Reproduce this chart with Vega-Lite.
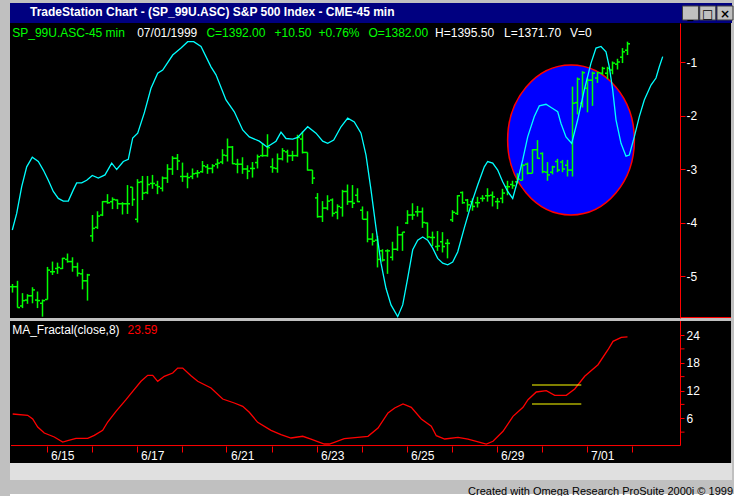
{
  "$schema": "https://vega.github.io/schema/vega-lite/v6.json",
  "background": "#c0c0c0",
  "padding": {"left": 9, "top": 3, "right": 0, "bottom": 0},
  "spacing": 0,
  "config": {"view": {"stroke": null}, "font": "Liberation Sans", "axis": {"labelOverlap": false}},
  "datasets": {
    "bars": [
      {"b":0,"h":-5.15,"l":-5.31,"o":-5.20,"c":-5.20},{"b":1,"h":-5.09,"l":-5.59,"o":-5.20,"c":-5.59},{"b":2,"h":-5.32,"l":-5.60,"o":-5.56,"c":-5.46},{"b":3,"h":-5.34,"l":-5.52,"o":-5.45,"c":-5.37},{"b":4,"h":-5.21,"l":-5.51,"o":-5.37,"c":-5.26},{"b":5,"h":-5.29,"l":-5.60,"o":-5.45,"c":-5.46},{"b":6,"h":-5.44,"l":-5.76,"o":-5.51,"c":-5.46},{"b":7,"h":-4.83,"l":-5.44,"o":-5.44,"c":-4.89},{"b":8,"h":-4.73,"l":-4.98,"o":-4.92,"c":-4.92},{"b":9,"h":-4.75,"l":-4.96,"o":-4.86,"c":-4.84},
      {"b":10,"h":-4.66,"l":-4.87,"o":-4.86,"c":-4.67},{"b":11,"h":-4.58,"l":-4.75,"o":-4.69,"c":-4.73},{"b":12,"h":-4.65,"l":-4.92,"o":-4.73,"c":-4.83},{"b":13,"h":-4.75,"l":-5.01,"o":-4.83,"c":-4.95},{"b":14,"h":-4.87,"l":-5.25,"o":-4.96,"c":-5.09},{"b":15,"h":-4.96,"l":-5.46,"o":-5.09,"c":-4.98},{"b":16,"h":-3.86,"l":-4.36,"o":-4.25,"c":-4.11},{"b":17,"h":-3.79,"l":-4.12,"o":-4.09,"c":-3.88},{"b":18,"h":-3.60,"l":-3.88,"o":-3.86,"c":-3.61},{"b":19,"h":-3.47,"l":-3.65,"o":-3.61,"c":-3.63},
      {"b":20,"h":-3.53,"l":-3.75,"o":-3.61,"c":-3.57},{"b":21,"h":-3.57,"l":-3.75,"o":-3.58,"c":-3.65},{"b":22,"h":-3.62,"l":-3.85,"o":-3.65,"c":-3.65},{"b":23,"h":-3.30,"l":-3.84,"o":-3.65,"c":-3.65},{"b":24,"h":-3.34,"l":-3.69,"o":-3.34,"c":-3.57},{"b":25,"h":-3.19,"l":-4.00,"o":-3.94,"c":-3.25},{"b":26,"h":-3.13,"l":-3.58,"o":-3.24,"c":-3.45},{"b":27,"h":-3.13,"l":-3.47,"o":-3.44,"c":-3.29},{"b":28,"h":-3.11,"l":-3.37,"o":-3.27,"c":-3.27},{"b":29,"h":-3.22,"l":-3.47,"o":-3.30,"c":-3.33},
      {"b":30,"h":-3.14,"l":-3.42,"o":-3.36,"c":-3.17},{"b":31,"h":-2.91,"l":-3.26,"o":-3.17,"c":-3.00},{"b":32,"h":-2.76,"l":-3.11,"o":-3.00,"c":-2.80},{"b":33,"h":-2.72,"l":-3.02,"o":-2.80,"c":-2.85},{"b":34,"h":-2.88,"l":-3.24,"o":-3.14,"c":-3.14},{"b":35,"h":-3.07,"l":-3.36,"o":-3.14,"c":-3.16},{"b":36,"h":-2.99,"l":-3.19,"o":-3.14,"c":-3.09},{"b":37,"h":-3.02,"l":-3.16,"o":-3.08,"c":-3.07},{"b":38,"h":-2.85,"l":-3.07,"o":-3.05,"c":-2.94},{"b":39,"h":-2.91,"l":-3.09,"o":-2.96,"c":-2.99},
      {"b":40,"h":-2.91,"l":-3.08,"o":-2.99,"c":-2.94},{"b":41,"h":-2.81,"l":-2.99,"o":-2.91,"c":-2.89},{"b":42,"h":-2.63,"l":-2.91,"o":-2.87,"c":-2.74},{"b":43,"h":-2.43,"l":-2.86,"o":-2.75,"c":-2.59},{"b":44,"h":-2.57,"l":-2.91,"o":-2.59,"c":-2.90},{"b":45,"h":-2.81,"l":-3.08,"o":-2.91,"c":-2.91},{"b":46,"h":-2.78,"l":-3.09,"o":-2.91,"c":-3.00},{"b":47,"h":-2.93,"l":-3.19,"o":-3.00,"c":-3.04},{"b":48,"h":-2.87,"l":-3.16,"o":-2.99,"c":-2.99},{"b":49,"h":-2.73,"l":-2.99,"o":-2.88,"c":-2.77},
      {"b":50,"h":-2.52,"l":-2.77,"o":-2.75,"c":-2.75},{"b":51,"h":-2.35,"l":-2.77,"o":-2.75,"c":-2.60},{"b":52,"h":-2.80,"l":-3.07,"o":-2.96,"c":-2.98},{"b":53,"h":-2.71,"l":-3.07,"o":-2.99,"c":-2.81},{"b":54,"h":-2.61,"l":-2.84,"o":-2.81,"c":-2.66},{"b":55,"h":-2.64,"l":-2.88,"o":-2.68,"c":-2.75},{"b":56,"h":-2.66,"l":-2.85,"o":-2.75,"c":-2.75},{"b":57,"h":-2.36,"l":-2.77,"o":-2.75,"c":-2.41},{"b":58,"h":-2.30,"l":-2.71,"o":-2.44,"c":-2.69},{"b":59,"h":-2.69,"l":-3.03,"o":-2.69,"c":-3.02},
      {"b":60,"h":-3.02,"l":-3.28,"o":-3.02,"c":-3.17},{"b":61,"h":-3.45,"l":-3.91,"o":-3.54,"c":-3.89},{"b":62,"h":-3.60,"l":-3.99,"o":-3.89,"c":-3.73},{"b":63,"h":-3.49,"l":-3.77,"o":-3.73,"c":-3.60},{"b":64,"h":-3.55,"l":-3.89,"o":-3.58,"c":-3.83},{"b":65,"h":-3.66,"l":-3.94,"o":-3.81,"c":-3.70},{"b":66,"h":-3.39,"l":-3.89,"o":-3.72,"c":-3.42},{"b":67,"h":-3.29,"l":-3.67,"o":-3.42,"c":-3.61},{"b":68,"h":-3.30,"l":-3.73,"o":-3.61,"c":-3.64},{"b":69,"h":-3.36,"l":-3.62,"o":-3.49,"c":-3.61},
      {"b":70,"h":-3.70,"l":-3.94,"o":-3.77,"c":-3.94},{"b":71,"h":-3.79,"l":-4.37,"o":-3.94,"c":-4.31},{"b":72,"h":-4.20,"l":-4.43,"o":-4.31,"c":-4.35},{"b":73,"h":-4.25,"l":-4.84,"o":-4.33,"c":-4.69},{"b":74,"h":-4.50,"l":-4.73,"o":-4.53,"c":-4.70},{"b":75,"h":-4.50,"l":-4.96,"o":-4.53,"c":-4.53},{"b":76,"h":-4.36,"l":-4.71,"o":-4.65,"c":-4.50},{"b":77,"h":-4.07,"l":-4.53,"o":-4.50,"c":-4.23},{"b":78,"h":-4.18,"l":-4.53,"o":-4.23,"c":-4.18},{"b":79,"h":-3.77,"l":-4.03,"o":-4.01,"c":-3.86},
      {"b":80,"h":-3.64,"l":-3.95,"o":-3.86,"c":-3.86},{"b":81,"h":-3.69,"l":-3.89,"o":-3.80,"c":-3.80},{"b":82,"h":-3.72,"l":-4.10,"o":-3.80,"c":-4.00},{"b":83,"h":-4.00,"l":-4.30,"o":-4.01,"c":-4.27},{"b":84,"h":-4.17,"l":-4.44,"o":-4.28,"c":-4.28},{"b":85,"h":-4.16,"l":-4.53,"o":-4.45,"c":-4.44},{"b":86,"h":-4.18,"l":-4.56,"o":-4.36,"c":-4.45},{"b":87,"h":-4.31,"l":-4.67,"o":-4.39,"c":-4.39},{"b":88,"h":-3.77,"l":-3.99,"o":-3.95,"c":-3.81},{"b":89,"h":-3.49,"l":-3.86,"o":-3.83,"c":-3.50},
      {"b":90,"h":-3.42,"l":-3.65,"o":-3.44,"c":-3.63},{"b":91,"h":-3.56,"l":-3.80,"o":-3.58,"c":-3.67},{"b":92,"h":-3.55,"l":-3.78,"o":-3.61,"c":-3.70},{"b":93,"h":-3.52,"l":-3.72,"o":-3.63,"c":-3.63},{"b":94,"h":-3.49,"l":-3.61,"o":-3.55,"c":-3.55},{"b":95,"h":-3.36,"l":-3.61,"o":-3.50,"c":-3.50},{"b":96,"h":-3.42,"l":-3.70,"o":-3.49,"c":-3.52},{"b":97,"h":-3.54,"l":-3.75,"o":-3.61,"c":-3.61},{"b":98,"h":-3.37,"l":-3.64,"o":-3.55,"c":-3.45},{"b":99,"h":-3.22,"l":-3.49,"o":-3.33,"c":-3.33},
      {"b":100,"h":-3.22,"l":-3.37,"o":-3.29,"c":-3.31},{"b":101,"h":-3.08,"l":-3.27,"o":-3.24,"c":-3.19},{"b":102,"h":-2.91,"l":-3.21,"o":-3.21,"c":-2.93},{"b":103,"h":-2.88,"l":-3.10,"o":-2.91,"c":-3.08},{"b":104,"h":-2.63,"l":-3.08,"o":-3.08,"c":-2.64},{"b":105,"h":-2.46,"l":-2.81,"o":-2.64,"c":-2.80},{"b":106,"h":-2.69,"l":-3.08,"o":-2.71,"c":-3.05},{"b":107,"h":-2.87,"l":-3.22,"o":-3.06,"c":-3.11},{"b":108,"h":-2.94,"l":-3.10,"o":-3.06,"c":-2.96},{"b":109,"h":-2.81,"l":-3.06,"o":-2.86,"c":-3.02},
      {"b":110,"h":-2.83,"l":-3.06,"o":-2.87,"c":-3.00},{"b":111,"h":-2.83,"l":-3.14,"o":-2.93,"c":-3.02},{"b":112,"h":-1.46,"l":-3.14,"o":-3.02,"c":-1.77},{"b":113,"h":-1.29,"l":-1.98,"o":-1.76,"c":-1.32},{"b":114,"h":-1.17,"l":-1.85,"o":-1.77,"c":-1.20},{"b":115,"h":-1.30,"l":-1.94,"o":-1.49,"c":-1.34},{"b":116,"h":-1.18,"l":-1.82,"o":-1.34,"c":-1.21},{"b":117,"h":-1.18,"l":-1.39,"o":-1.30,"c":-1.20},{"b":118,"h":-1.09,"l":-1.24,"o":-1.21,"c":-1.12},{"b":119,"h":-1.09,"l":-1.32,"o":-1.21,"c":-1.12},
      {"b":120,"h":-0.99,"l":-1.23,"o":-1.15,"c":-1.02},{"b":121,"h":-0.94,"l":-1.14,"o":-1.04,"c":-1.00},{"b":122,"h":-0.74,"l":-1.02,"o":-0.91,"c":-0.81},{"b":123,"h":-0.62,"l":-0.87,"o":-0.78,"c":-0.66}
    ],
    "cyan": [
      {"b":-0.04,"v":-4.14},{"b":0.84,"v":-3.83},{"b":1.84,"v":-3.33},{"b":2.84,"v":-2.96},{"b":3.96,"v":-2.78},{"b":5.16,"v":-2.86},{"b":6.16,"v":-3.02},{"b":7.16,"v":-3.21},{"b":8.16,"v":-3.42},{"b":9.16,"v":-3.55},{"b":10.16,"v":-3.6},{"b":11.16,"v":-3.6},{"b":12.16,"v":-3.39},{"b":12.84,"v":-3.26},{"b":13.84,"v":-3.26},{"b":14.84,"v":-3.21},{"b":15.96,"v":-3.12},{"b":17.16,"v":-3.17},{"b":18.5,"v":-3.11},{"b":19.84,"v":-2.89},{"b":20.84,"v":-3.01},{"b":22.16,"v":-2.86},{"b":23.16,"v":-2.82},{"b":24.04,"v":-2.42},{"b":25.04,"v":-2.33},{"b":26.36,"v":-1.95},{"b":27.7,"v":-1.49},{"b":29.04,"v":-1.21},{"b":30.04,"v":-1.15},{"b":32.04,"v":-0.87},{"b":33.7,"v":-0.74},{"b":35.04,"v":-0.62},{"b":36.24,"v":-0.62},{"b":37.7,"v":-0.71},{"b":39.7,"v":-1.09},{"b":40.7,"v":-1.24},{"b":42.7,"v":-1.71},{"b":44.36,"v":-1.93},{"b":46.04,"v":-2.27},{"b":47.36,"v":-2.4},{"b":49.36,"v":-2.48},{"b":50.9,"v":-2.59},{"b":52.7,"v":-2.48},{"b":53.7,"v":-2.31},{"b":54.7,"v":-2.43},{"b":56.04,"v":-2.44},{"b":57.04,"v":-2.41},{"b":59.04,"v":-2.21},{"b":60.7,"v":-2.33},{"b":62.04,"v":-2.48},{"b":63.04,"v":-2.52},{"b":64.24,"v":-2.46},{"b":65.7,"v":-2.21},{"b":67.04,"v":-2.05},{"b":68.36,"v":-2.12},{"b":69.7,"v":-2.33},{"b":70.7,"v":-2.74},{"b":71.7,"v":-3.39},{"b":72.7,"v":-4.1},{"b":73.7,"v":-4.76},{"b":74.7,"v":-5.23},{"b":75.7,"v":-5.54},{"b":77.04,"v":-5.76},{"b":78.04,"v":-5.54},{"b":79.04,"v":-5.04},{"b":80.04,"v":-4.51},{"b":81.04,"v":-4.33},{"b":82.04,"v":-4.27},{"b":83.04,"v":-4.33},{"b":84.04,"v":-4.48},{"b":85.04,"v":-4.67},{"b":86.04,"v":-4.76},{"b":87.04,"v":-4.79},{"b":88.04,"v":-4.74},{"b":89.04,"v":-4.55},{"b":90.36,"v":-4.1},{"b":91.7,"v":-3.67},{"b":93.04,"v":-3.3},{"b":94.36,"v":-2.96},{"b":95.04,"v":-2.86},{"b":96.04,"v":-2.89},{"b":97.04,"v":-3.02},{"b":98.04,"v":-3.24},{"b":99.04,"v":-3.42},{"b":100.04,"v":-3.55},{"b":101.04,"v":-3.21},{"b":102.04,"v":-2.83},{"b":103.04,"v":-2.4},{"b":104.36,"v":-2.02},{"b":105.36,"v":-1.82},{"b":106.7,"v":-1.79},{"b":108.04,"v":-1.87},{"b":109.04,"v":-1.93},{"b":109.7,"v":-2.15},{"b":110.7,"v":-2.4},{"b":111.84,"v":-2.52},{"b":113.04,"v":-2.08},{"b":114.36,"v":-1.52},{"b":115.7,"v":-1.02},{"b":116.7,"v":-0.74},{"b":117.7,"v":-0.71},{"b":118.7,"v":-0.81},{"b":119.36,"v":-1.09},{"b":120.04,"v":-1.52},{"b":120.7,"v":-2.08},{"b":121.7,"v":-2.52},{"b":122.7,"v":-2.76},{"b":123.36,"v":-2.74},{"b":124.36,"v":-2.4},{"b":125.36,"v":-2.02},{"b":126.36,"v":-1.71},{"b":127.7,"v":-1.43},{"b":128.7,"v":-1.3},{"b":129.36,"v":-1.09},{"b":130.04,"v":-0.9}
    ],
    "fractal": [
      {"b":0.04,"v":6.92},{"b":3.04,"v":6.64},{"b":4.04,"v":5.84},{"b":5.04,"v":4.11},{"b":6.36,"v":2.81},{"b":8.36,"v":1.95},{"b":10.04,"v":0.86},{"b":11.04,"v":1.15},{"b":12.7,"v":1.66},{"b":15.04,"v":1.66},{"b":16.36,"v":2.31},{"b":18.04,"v":3.39},{"b":19.04,"v":5.19},{"b":20.7,"v":7.5},{"b":22.7,"v":10.01},{"b":24.04,"v":11.83},{"b":25.7,"v":13.99},{"b":27.04,"v":15.29},{"b":28.04,"v":15.29},{"b":29.04,"v":13.99},{"b":30.36,"v":15.07},{"b":32.04,"v":15.78},{"b":33.04,"v":16.86},{"b":34.04,"v":16.86},{"b":35.7,"v":15.2},{"b":37.04,"v":13.99},{"b":39.7,"v":12.54},{"b":42.04,"v":10.16},{"b":44.36,"v":9.3},{"b":46.04,"v":8.58},{"b":47.36,"v":7.29},{"b":49.04,"v":5.12},{"b":51.7,"v":3.39},{"b":53.7,"v":2.44},{"b":55.7,"v":1.73},{"b":58.04,"v":2.1},{"b":59.7,"v":1.51},{"b":62.36,"v":0.43},{"b":63.36,"v":0.43},{"b":64.36,"v":0.8},{"b":66.36,"v":1.58},{"b":69.04,"v":1.88},{"b":71.1,"v":2.1},{"b":73.1,"v":3.89},{"b":75.1,"v":7.14},{"b":76.44,"v":8.22},{"b":78.1,"v":9.08},{"b":79.76,"v":8.37},{"b":81.76,"v":5.84},{"b":83.76,"v":4.26},{"b":84.76,"v":2.23},{"b":86.44,"v":1.51},{"b":89.1,"v":1.88},{"b":91.1,"v":1.51},{"b":92.76,"v":1.02},{"b":94.76,"v":0.43},{"b":96.1,"v":1.02},{"b":98.1,"v":3.18},{"b":100.1,"v":6.42},{"b":102.1,"v":8.37},{"b":103.1,"v":10.01},{"b":104.76,"v":11.68},{"b":106.76,"v":11.96},{"b":108.44,"v":10.96},{"b":110.76,"v":10.96},{"b":112.44,"v":12.32},{"b":114.44,"v":15.07},{"b":117.1,"v":17.58},{"b":119.1,"v":20.82},{"b":120.1,"v":22.64},{"b":121.76,"v":23.5},{"b":123,"v":23.59}
    ],
    "bands": [
      {"b1":103.9,"b2":113.76,"v":13.19},
      {"b1":103.9,"b2":113.76,"v":9.08}
    ],
    "minorTicks": [{"v":3},{"v":9},{"v":15},{"v":21}],
    "zone": [{"b":111.7,"v":-2.458}],
    "buttons": [
      {"slot":1,"glyph":"_"},
      {"slot":2,"glyph":"□"},
      {"slot":3,"glyph":"×"}
    ]
  },
  "vconcat": [
    {
      "width": 722, "height": 20,
      "view": {"fill": "#000080", "stroke": null},
      "data": {"name": "buttons"},
      "title": {"text": "TradeStation Chart - (SP_99U.ASC) S&P 500 Index - CME-45 min", "orient": "top", "anchor": "start", "frame": "group", "offset": -16, "dx": 20, "color": "#ffffff", "font": "Liberation Sans", "fontSize": 12, "fontWeight": "bold"},
      "layer": [
        {
          "mark": {"type": "point", "shape": "M -1 -0.875 H 1 V 0.875 H -1 Z", "size": 256, "filled": true, "fill": "#c0c0c0", "stroke": "#404040", "strokeWidth": 1, "opacity": 1},
          "encoding": {"x": {"field": "slot", "type": "quantitative", "scale": {"domain": [-38.449, 3.406], "nice": false, "zero": false}, "axis": null}}
        },
        {
          "mark": {"type": "text", "font": "DejaVu Sans", "fontSize": 12, "fontWeight": "bold", "color": "#000000", "baseline": "middle", "dy": 1},
          "encoding": {"x": {"field": "slot", "type": "quantitative", "axis": null}, "text": {"field": "glyph"}}
        }
      ]
    },
    {
      "width": 721, "height": 295,
      "view": {"fill": "#000000", "stroke": null},
      "layer": [
        {
          "data": {"name": "zone"},
          "mark": {"type": "point", "shape": "M -0.845 0 A 0.845 1 0 1 1 0.845 0 A 0.845 1 0 1 1 -0.845 0 Z", "size": 22500, "filled": true, "fill": "#0000ff", "stroke": "#ff0000", "strokeWidth": 1.5, "opacity": 1},
          "encoding": {
            "x": {"field": "b", "type": "quantitative", "scale": {"domain": [-0.5, 143.7], "nice": false, "zero": false}, "axis": null},
            "y": {"field": "v", "type": "quantitative", "scale": {"domain": [-5.785, -0.271], "nice": false, "zero": false},
                  "axis": {"orient": "right", "offset": -51, "values": [-1, -2, -3, -4, -5], "labelExpr": "'-' + format(-datum.value, 'd')", "domainColor": "#ff0000", "tickColor": "#ff0000", "tickSize": 5, "labelColor": "#ffffff", "labelFont": "Liberation Sans", "labelFontSize": 12, "labelPadding": 1, "grid": false, "title": null}}
          }
        },
        {
          "data": {"name": "bars"},
          "mark": {"type": "rule", "color": "#00ff00", "strokeWidth": 1.5},
          "encoding": {
            "x": {"field": "b", "type": "quantitative"},
            "y": {"field": "h", "type": "quantitative"},
            "y2": {"field": "l"}
          }
        },
        {
          "data": {"name": "bars"},
          "mark": {"type": "rule", "color": "#00ff00", "strokeWidth": 1.5, "xOffset": -2.5},
          "encoding": {
            "x": {"field": "b", "type": "quantitative"},
            "x2": {"field": "b"},
            "y": {"field": "o", "type": "quantitative"}
          }
        },
        {
          "data": {"name": "bars"},
          "mark": {"type": "rule", "color": "#00ff00", "strokeWidth": 1.5, "x2Offset": 2.5},
          "encoding": {
            "x": {"field": "b", "type": "quantitative"},
            "x2": {"field": "b"},
            "y": {"field": "c", "type": "quantitative"}
          }
        },
        {
          "data": {"name": "cyan"},
          "mark": {"type": "line", "color": "#00ffff", "strokeWidth": 1.3},
          "encoding": {
            "x": {"field": "b", "type": "quantitative"},
            "y": {"field": "v", "type": "quantitative"}
          }
        },
        {
          "data": {"values": [{}]},
          "mark": {"type": "rule", "color": "#ff0000", "strokeWidth": 1},
          "encoding": {"x": {"datum": 133.6, "type": "quantitative"}, "x2": {"datum": 143.7}, "y": {"datum": -5.776, "type": "quantitative"}}
        },
        {"data": {"values": [{}]}, "mark": {"type": "text", "align": "left", "baseline": "alphabetic", "font": "Liberation Sans", "fontSize": 12, "color": "#00ff00", "text": "SP_99U.ASC-45 min"}, "encoding": {"x": {"datum": -0.06, "type": "quantitative"}, "y": {"datum": -0.542, "type": "quantitative"}}},
        {"data": {"values": [{}]}, "mark": {"type": "text", "align": "left", "baseline": "alphabetic", "font": "Liberation Sans", "fontSize": 12, "color": "#ffffff", "text": "07/01/1999"}, "encoding": {"x": {"datum": 24.94, "type": "quantitative"}, "y": {"datum": -0.542, "type": "quantitative"}}},
        {"data": {"values": [{}]}, "mark": {"type": "text", "align": "left", "baseline": "alphabetic", "font": "Liberation Sans", "fontSize": 12, "color": "#00ff00", "text": "C=1392.00"}, "encoding": {"x": {"datum": 38.78, "type": "quantitative"}, "y": {"datum": -0.542, "type": "quantitative"}}},
        {"data": {"values": [{}]}, "mark": {"type": "text", "align": "left", "baseline": "alphabetic", "font": "Liberation Sans", "fontSize": 12, "color": "#00ff00", "text": "+10.50"}, "encoding": {"x": {"datum": 52.4, "type": "quantitative"}, "y": {"datum": -0.542, "type": "quantitative"}}},
        {"data": {"values": [{}]}, "mark": {"type": "text", "align": "left", "baseline": "alphabetic", "font": "Liberation Sans", "fontSize": 12, "color": "#00ff00", "text": "+0.76%"}, "encoding": {"x": {"datum": 61.2, "type": "quantitative"}, "y": {"datum": -0.542, "type": "quantitative"}}},
        {"data": {"values": [{}]}, "mark": {"type": "text", "align": "left", "baseline": "alphabetic", "font": "Liberation Sans", "fontSize": 12, "color": "#00ff00", "text": "O=1382.00"}, "encoding": {"x": {"datum": 71.2, "type": "quantitative"}, "y": {"datum": -0.542, "type": "quantitative"}}},
        {"data": {"values": [{}]}, "mark": {"type": "text", "align": "left", "baseline": "alphabetic", "font": "Liberation Sans", "fontSize": 12, "color": "#ffffff", "text": "H=1395.50"}, "encoding": {"x": {"datum": 84.52, "type": "quantitative"}, "y": {"datum": -0.542, "type": "quantitative"}}},
        {"data": {"values": [{}]}, "mark": {"type": "text", "align": "left", "baseline": "alphabetic", "font": "Liberation Sans", "fontSize": 12, "color": "#ffffff", "text": "L=1371.70"}, "encoding": {"x": {"datum": 98.32, "type": "quantitative"}, "y": {"datum": -0.542, "type": "quantitative"}}},
        {"data": {"values": [{}]}, "mark": {"type": "text", "align": "left", "baseline": "alphabetic", "font": "Liberation Sans", "fontSize": 12, "color": "#ffffff", "text": "V=0"}, "encoding": {"x": {"datum": 111.5, "type": "quantitative"}, "y": {"datum": -0.542, "type": "quantitative"}}}
      ]
    },
    {
      "width": 721, "height": 142,
      "view": {"fill": "#000000", "stroke": null},
      "layer": [
        {
          "data": {"name": "fractal"},
          "mark": {"type": "line", "color": "#ff0000", "strokeWidth": 1.3},
          "encoding": {
            "x": {"field": "b", "type": "quantitative", "scale": {"domain": [-0.5, 143.7], "nice": false, "zero": false},
                  "axis": {"orient": "bottom", "offset": -17, "values": [6.8, 15.8, 24.8, 33.8, 42.8, 51.8, 60.8, 69.8, 78.8, 87.8, 96.8, 105.8, 114.8, 123.8],
                           "labelExpr": "['6/15','','6/17','','6/21','','6/23','','6/25','','6/29','','7/01',''][round((datum.value - 6.8) / 9)]",
                           "domain": false, "tickColor": "#ff0000", "tickSize": 6, "labelColor": "#ffffff", "labelFont": "Liberation Sans", "labelFontSize": 12, "labelAlign": "left", "labelOffset": 4, "labelBaseline": "top", "labelPadding": -2, "grid": false, "title": null, "labelOverlap": false, "labelBound": false}},
            "y": {"field": "v", "type": "quantitative", "scale": {"domain": [-3.676, 27.03], "nice": false, "zero": false},
                  "axis": {"orient": "right", "offset": -51, "values": [6, 12, 18, 24], "format": "d", "domain": false, "tickColor": "#ff0000", "tickSize": 4, "labelColor": "#ffffff", "labelFont": "Liberation Sans", "labelFontSize": 12, "labelPadding": 2, "labelOverlap": false, "labelBound": false, "grid": false, "title": null}}
          }
        },
        {
          "data": {"name": "minorTicks"},
          "mark": {"type": "rule", "color": "#ff0000", "strokeWidth": 1, "x2Offset": 4},
          "encoding": {
            "x": {"datum": 133.6, "type": "quantitative"},
            "x2": {"datum": 133.6},
            "y": {"field": "v", "type": "quantitative"}
          }
        },
        {
          "data": {"name": "bands"},
          "mark": {"type": "rule", "color": "#ffff00", "strokeWidth": 1.2},
          "encoding": {
            "x": {"field": "b1", "type": "quantitative"},
            "x2": {"field": "b2"},
            "y": {"field": "v", "type": "quantitative"}
          }
        },
        {
          "data": {"values": [{}]},
          "mark": {"type": "rule", "color": "#ff0000", "strokeWidth": 1},
          "encoding": {"x": {"datum": 133.6, "type": "quantitative"}, "y": {"datum": 0.1, "type": "quantitative"}, "y2": {"datum": 27.03}}
        },
        {
          "data": {"values": [{}]},
          "mark": {"type": "rule", "color": "#ff0000", "strokeWidth": 1},
          "encoding": {"x": {"datum": -0.3, "type": "quantitative"}, "x2": {"datum": 133.6}, "y": {"datum": 0.1, "type": "quantitative"}}
        },
        {"data": {"values": [{}]}, "mark": {"type": "text", "align": "left", "baseline": "alphabetic", "font": "Liberation Sans", "fontSize": 12, "color": "#ffffff", "text": "MA_Fractal(close,8)"}, "encoding": {"x": {"datum": -0.06, "type": "quantitative"}, "y": {"datum": 24.32, "type": "quantitative"}}},
        {"data": {"values": [{}]}, "mark": {"type": "text", "align": "left", "baseline": "alphabetic", "font": "Liberation Sans", "fontSize": 12, "color": "#ff0000", "text": "23.59"}, "encoding": {"x": {"datum": 23.0, "type": "quantitative"}, "y": {"datum": 24.32, "type": "quantitative"}}}
      ]
    },
    {
      "width": 722, "height": 17,
      "view": {"fill": "#e0e0e0", "stroke": null},
      "data": {"values": []},
      "mark": "point"
    },
    {
      "width": 722, "height": 6,
      "data": {"values": []},
      "mark": "point"
    },
    {
      "width": 725, "height": 13,
      "view": {"fill": "#ffffff", "stroke": null},
      "data": {"values": []},
      "mark": "point",
      "title": {"text": "Created with Omega Research ProSuite 2000i © 1999", "orient": "top", "anchor": "end", "frame": "group", "offset": -12, "dx": -2, "color": "#000000", "font": "Liberation Sans", "fontSize": 11, "fontWeight": "normal", "baseline": "alphabetic"}
    }
  ]
}
